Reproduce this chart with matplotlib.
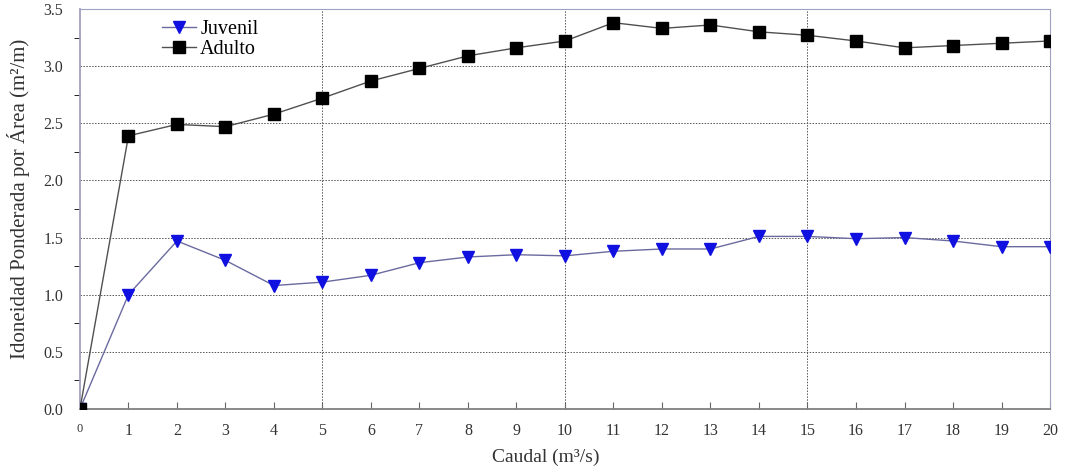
import matplotlib.pyplot as plt
from matplotlib.ticker import MultipleLocator

plt.rcParams['font.family'] = ['Liberation Serif', 'DejaVu Serif']

# Data
caudal = list(range(0, 21))
juvenil = [0.0, 1.0, 1.47, 1.30, 1.08, 1.11, 1.17, 1.28, 1.33, 1.35, 1.34,
           1.38, 1.40, 1.40, 1.51, 1.51, 1.49, 1.50, 1.47, 1.42, 1.42]
adulto = [0.0, 2.39, 2.49, 2.47, 2.58, 2.72, 2.87, 2.98, 3.09, 3.16, 3.22,
          3.38, 3.33, 3.36, 3.30, 3.27, 3.22, 3.16, 3.18, 3.20, 3.22]

fig = plt.figure(figsize=(10.66, 4.72), dpi=100)
ax = fig.add_axes([0.075, 0.1335, 0.91, 0.8475])

ax.plot(caudal, juvenil, color='#6a6aa0', linewidth=1.0, marker='v',
        markersize=8.5, markerfacecolor='#1010e0', markeredgecolor='#1010e0',
        label='Juvenil', zorder=3)
ax.plot(caudal, adulto, color='#505050', linewidth=1.0, marker='s',
        markersize=8, markerfacecolor='black', markeredgecolor='black',
        label='Adulto', zorder=3)

ax.set_xlim(0, 20)
ax.set_ylim(0, 3.5)
ax.set_xticks(caudal)
ax.yaxis.set_major_locator(MultipleLocator(0.5))
ax.yaxis.set_minor_locator(MultipleLocator(0.25))
ax.yaxis.set_major_formatter(plt.FuncFormatter(lambda v, p: f'{v:.1f}'))

# grid: horizontal every 0.5, vertical at 5, 10, 15
for yv in [0.5, 1.0, 1.5, 2.0, 2.5, 3.0]:
    ax.axhline(yv, color='#555555', linestyle=(0, (1.5, 1.5)), linewidth=0.7, zorder=1)
for xv in [5, 10, 15]:
    ax.axvline(xv, color='#555555', linestyle=(0, (1.5, 1.5)), linewidth=0.7, zorder=1)

ax.tick_params(axis='both', direction='in', colors='#666666', labelcolor='#333333',
               labelsize=11.5)
ax.tick_params(axis='x', length=5, pad=10)
ax.tick_params(axis='y', which='major', length=0, pad=12)
ax.tick_params(axis='y', which='minor', length=4)
labels = ax.get_xticklabels()
labels[0].set_fontsize(9)

for side in ['left', 'top', 'right']:
    ax.spines[side].set_color('#a0a0c0')
ax.spines['left'].set_linewidth(1.3)
ax.spines['bottom'].set_color('#808080')
ax.spines['bottom'].set_linewidth(1.3)

ax.set_xlabel('Caudal (m³/s)', fontsize=14, color='#333333')
ax.xaxis.set_label_coords(0.48, -0.1)
ax.set_ylabel('Idoneidad Ponderada por Área (m²/m)', fontsize=15, color='#333333')
ax.yaxis.set_label_coords(-0.052, 0.525)

ax.legend(loc='upper left', bbox_to_anchor=(0.07, 1.008), frameon=False,
          fontsize=14.5, handlelength=1.7, handletextpad=0.2, labelspacing=0.05,
          borderpad=0.2)

fig.savefig('out.png', dpi=100, facecolor='white')
